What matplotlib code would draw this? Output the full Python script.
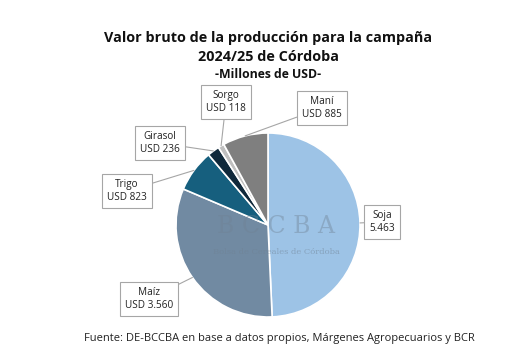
import matplotlib.pyplot as plt
import numpy as np

# datos (millones de USD)
cultivos = ['Soja', 'Maíz', 'Trigo', 'Girasol', 'Sorgo', 'Maní']
valores = [5463, 3560, 823, 236, 118, 885]
etiquetas = ['Soja\n5.463', 'Maíz\nUSD 3.560', 'Trigo\nUSD 823',
             'Girasol\nUSD 236', 'Sorgo\nUSD 118', 'Maní\nUSD 885']
colores = ['#9dc3e6', '#718aa2', '#165f7e', '#0f283a', '#bfbfbf', '#7f7f7f']

plt.rcParams['font.family'] = ['Open Sans', 'DejaVu Sans']

W, H = 516, 357
fig = plt.figure(figsize=(W / 100, H / 100), dpi=100)
fig.patch.set_facecolor('white')

# pie centered at (268, 225) px, radius 92 px
cx, cy, r = 268, 225, 92
ax = fig.add_axes([(cx - r) / W, (H - cy - r) / H, 2 * r / W, 2 * r / H])
wedges, _ = ax.pie(valores, colors=colores, startangle=90, counterclock=False,
                   radius=1, wedgeprops=dict(edgecolor='white', linewidth=1.2))
ax.set_xlim(-1, 1)
ax.set_ylim(-1, 1)
ax.set_aspect('equal')
ax.axis('off')

# watermark
ax.text(0.09, -0.02, 'B C C B A', ha='center', va='center', fontsize=17,
        family='DejaVu Serif', color='#6f8193', alpha=0.4, zorder=5)
ax.text(0.09, -0.29, 'Bolsa de Cereales de Córdoba', ha='center', va='center',
        fontsize=6, family='DejaVu Serif', color='#6f8193', alpha=0.5, zorder=5)

# label boxes (pixel centers, top-left origin)
pos_cajas = {'Soja': (382, 222), 'Maíz': (149, 299), 'Trigo': (127, 191),
             'Girasol': (160, 143), 'Sorgo': (226, 102), 'Maní': (322, 108)}

for w, nombre, lab in zip(wedges, cultivos, etiquetas):
    mid = np.deg2rad((w.theta1 + w.theta2) / 2)
    x0, y0 = np.cos(mid), np.sin(mid)
    px, py = pos_cajas[nombre]
    ax.annotate(lab, xy=(x0, y0), xycoords='data',
                xytext=(px, H - py), textcoords='figure pixels',
                ha='center', va='center', fontsize=7.2, color='#222222',
                linespacing=1.35,
                bbox=dict(boxstyle='square,pad=0.5', fc='white', ec='#a6a6a6', lw=0.8),
                arrowprops=dict(arrowstyle='-', color='#a6a6a6', lw=0.8,
                                shrinkA=0, shrinkB=0))

fig.text(268 / W, 1 - 38 / H, 'Valor bruto de la producción para la campaña',
         ha='center', va='center', fontsize=10.4, fontweight='bold', color='#111111')
fig.text(268 / W, 1 - 57 / H, '2024/25 de Córdoba',
         ha='center', va='center', fontsize=10.4, fontweight='bold', color='#111111')
fig.text(268 / W, 1 - 75 / H, '-Millones de USD-',
         ha='center', va='center', fontsize=8.8, fontweight='bold', color='#111111')
fig.text(279 / W, 1 - 338 / H,
         'Fuente: DE-BCCBA en base a datos propios, Márgenes Agropecuarios y BCR',
         ha='center', va='center', fontsize=8, color='#222222')

fig.savefig('out.png', dpi=100)
